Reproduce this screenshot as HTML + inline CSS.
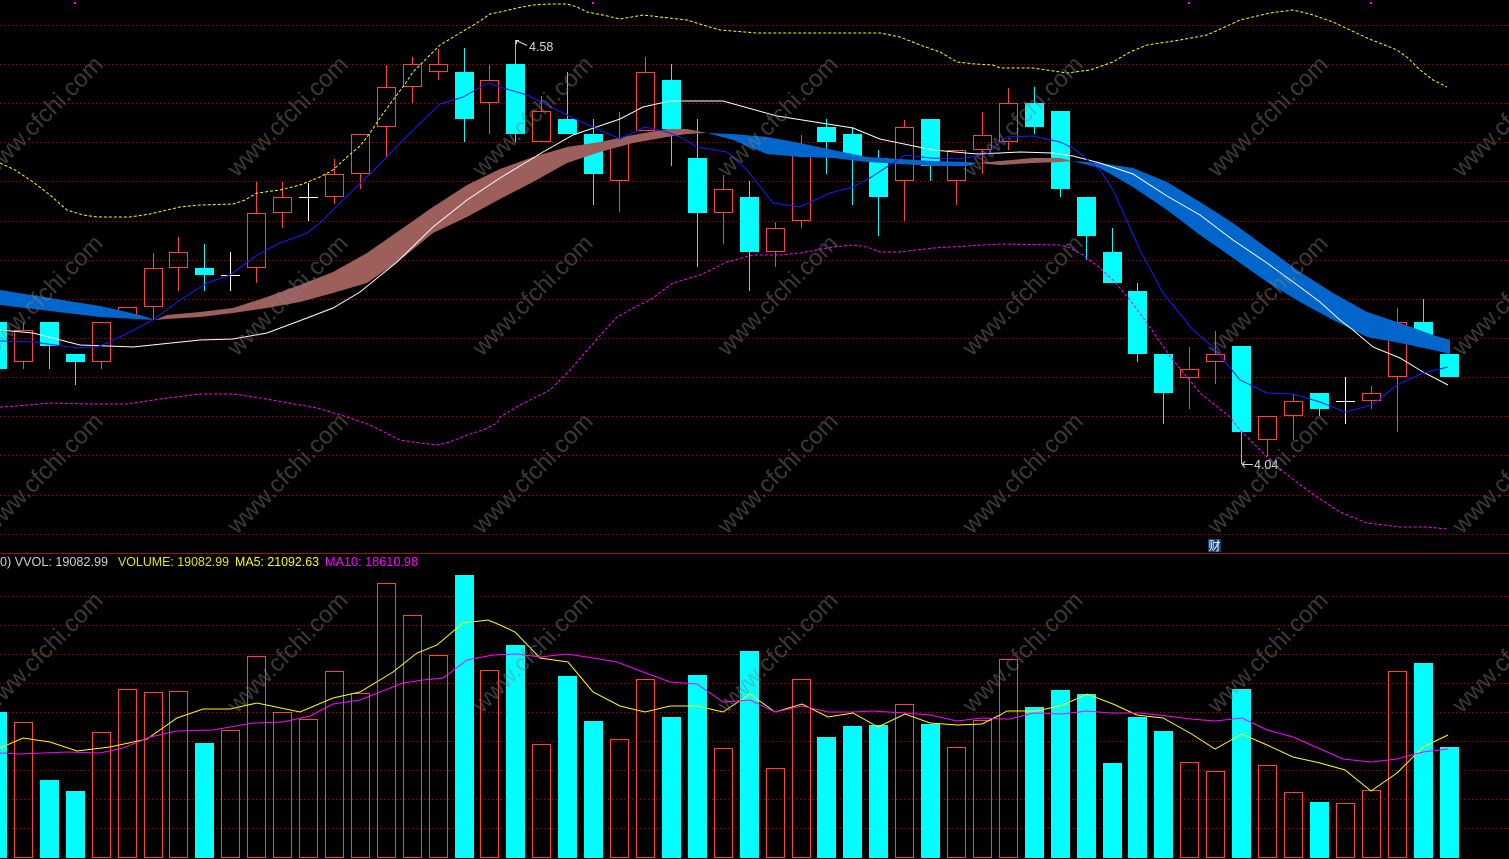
<!DOCTYPE html>
<html><head><meta charset="utf-8"><style>html,body{margin:0;padding:0;background:#000;overflow:hidden}svg{display:block}</style></head>
<body>
<svg xmlns="http://www.w3.org/2000/svg" width="1509" height="859" viewBox="0 0 1509 859">
<rect width="1509" height="859" fill="#000"/>
<!-- grid -->
<g stroke="#a00000" stroke-width="1" stroke-dasharray="1 3">
<path d="M0 25.5H1509M0 64.5H1509M0 103.5H1509M0 142.5H1509M0 181.5H1509M0 221.5H1509M0 260.5H1509M0 299.5H1509M0 338.5H1509M0 377.5H1509M0 416.5H1509M0 455.5H1509M0 495.5H1509M0 534.5H1509"/>
<path d="M0 596.5H1509M0 625.5H1509M0 654.5H1509M0 683.5H1509M0 712.5H1509M0 741.5H1509M0 770.5H1509M0 799.5H1509M0 828.5H1509"/>
</g>
<path d="M0 553.5H1509" stroke="#a01010" stroke-width="1"/>
<!-- red candles -->
<g fill="none" stroke="#ff4040" stroke-width="1" shape-rendering="crispEdges">
<rect x="14.5" y="330.5" width="18" height="31"/><path d="M23.5 323V330M23.5 362V369"/>
<rect x="92.5" y="322.5" width="18" height="39"/><path d="M101.5 362V369"/>
<rect x="118.5" y="307.5" width="18" height="7"/><path d="M127.5 315V318"/>
<rect x="144.5" y="268.5" width="18" height="38"/><path d="M153.5 253V268M153.5 307V320"/>
<rect x="169.5" y="252.5" width="18" height="15"/><path d="M178.5 237V252M178.5 268V291"/>
<rect x="247.5" y="213.5" width="18" height="54"/><path d="M256.5 182V213M256.5 268V283"/>
<rect x="273.5" y="197.5" width="18" height="15"/><path d="M282.5 182V197M282.5 213V228"/>
<rect x="325.5" y="174.5" width="18" height="22"/><path d="M334.5 159V174M334.5 197V204"/>
<rect x="351.5" y="134.5" width="18" height="39"/><path d="M360.5 174V189"/>
<rect x="377.5" y="87.5" width="18" height="39"/><path d="M386.5 65V87M386.5 127V158"/>
<rect x="403.5" y="64.5" width="18" height="22"/><path d="M412.5 57V64M412.5 87V103"/>
<rect x="429.5" y="64.5" width="18" height="7"/><path d="M438.5 49V64M438.5 72V80"/>
<rect x="480.5" y="80.5" width="18" height="22"/><path d="M489.5 65V80M489.5 103V134"/>
<rect x="532.5" y="111.5" width="18" height="30"/><path d="M541.5 96V111"/>
<rect x="610.5" y="142.5" width="18" height="38"/><path d="M619.5 112V142M619.5 181V212"/>
<rect x="636.5" y="72.5" width="18" height="58"/><path d="M645.5 57V72"/>
<rect x="714.5" y="189.5" width="18" height="23"/><path d="M723.5 175V189M723.5 213V244"/>
<rect x="766.5" y="228.5" width="18" height="23"/><path d="M775.5 222V228M775.5 252V267"/>
<rect x="792.5" y="150.5" width="18" height="70"/><path d="M801.5 135V150M801.5 221V228"/>
<rect x="895.5" y="127.5" width="18" height="53"/><path d="M904.5 120V127M904.5 181V221"/>
<rect x="947.5" y="150.5" width="18" height="30"/><path d="M956.5 181V205"/>
<rect x="973.5" y="135.5" width="18" height="14"/><path d="M982.5 112V135M982.5 150V174"/>
<rect x="999.5" y="103.5" width="18" height="38"/><path d="M1008.5 88V103M1008.5 142V150"/>
<rect x="1180.5" y="369.5" width="18" height="8"/><path d="M1189.5 347V369M1189.5 378V409"/>
<rect x="1206.5" y="354.5" width="18" height="7"/><path d="M1215.5 331V354M1215.5 362V384"/>
<rect x="1258.5" y="416.5" width="18" height="23"/><path d="M1267.5 440V456"/>
<rect x="1284.5" y="401.5" width="18" height="14"/><path d="M1293.5 394V401M1293.5 416V440"/>
<rect x="1362.5" y="393.5" width="18" height="7"/><path d="M1371.5 386V393M1371.5 401V409"/>
<rect x="1388.5" y="322.5" width="18" height="54"/><path d="M1397.5 308V322M1397.5 377V432"/>
</g>
<!-- cyan candles -->
<g shape-rendering="crispEdges">
<path stroke="#00ffff" stroke-width="1" fill="none" d="M49.5 346V369M75.5 362V385M204.5 244V291M464.5 48V142M515.5 40V142M567.5 72V119M593.5 119V205M671.5 64V166M697.5 119V267M749.5 181V291M826.5 119V174M852.5 127V205M878.5 150V236M930.5 166V181M1034.5 87V134M1060.5 189V197M1086.5 236V260M1112.5 228V252M1137.5 283V362M1163.5 393V424M1241.5 432V464M1319.5 409V416M1423.5 299V322"/>
<g fill="#00ffff">
<rect x="-12" y="322" width="19" height="47"/>
<rect x="40" y="322" width="19" height="24"/>
<rect x="66" y="354" width="19" height="8"/>
<rect x="195" y="268" width="19" height="7"/>
<rect x="455" y="72" width="19" height="47"/>
<rect x="506" y="64" width="19" height="70"/>
<rect x="558" y="119" width="19" height="15"/>
<rect x="584" y="134" width="19" height="40"/>
<rect x="662" y="80" width="19" height="49"/>
<rect x="688" y="158" width="19" height="55"/>
<rect x="740" y="197" width="19" height="55"/>
<rect x="817" y="127" width="19" height="15"/>
<rect x="843" y="134" width="19" height="22"/>
<rect x="869" y="158" width="19" height="39"/>
<rect x="921" y="119" width="19" height="47"/>
<rect x="1025" y="103" width="19" height="24"/>
<rect x="1051" y="111" width="19" height="78"/>
<rect x="1077" y="197" width="19" height="39"/>
<rect x="1103" y="252" width="19" height="31"/>
<rect x="1128" y="291" width="19" height="63"/>
<rect x="1154" y="354" width="19" height="39"/>
<rect x="1232" y="346" width="19" height="86"/>
<rect x="1310" y="393" width="19" height="16"/>
<rect x="1414" y="322" width="19" height="18"/>
<rect x="1440" y="354" width="19" height="23"/>
</g>
<path stroke="#ffffff" stroke-width="1" fill="none" d="M221 275.5H240M230.5 252V291M299 197.5H318M308.5 183V221M1336 401.5H1355M1345.5 377V424"/>
</g>
<!-- band -->
<polygon fill="#0066cc" points="0,290 50,298 100,306 140,315 155,320 100,317 50,311 0,305"/>
<polygon fill="#9c5f5c" points="155,320 167,315 200,312 233,308 267,297 300,285 333,272 367,253 400,230 433,207 467,185 500,169 533,157 567,147 600,142 633,135 667,129 687,129 707,133 687,134 667,137 633,143 600,152 567,163 533,182 500,199 467,217 433,233 400,260 367,283 333,293 300,302 267,308 233,313 200,317 167,319"/>
<polygon fill="#0066cc" points="707,133 733,134 767,137 800,143 833,150 867,157 900,159 933,161 967,162 977,163 967,166 933,166 900,164 867,162 833,158 800,157 767,154 733,140"/>
<polygon fill="#9c5f5c" points="977,163 1000,161 1033,158 1060,158 1072,161 1060,162 1033,163 1000,165"/>
<polygon fill="#0066cc" points="1072,161 1100,163 1133,168 1167,182 1200,202 1233,223 1267,248 1300,272 1333,293 1367,312 1400,323 1433,335 1450,340 1450,354 1433,350 1400,343 1367,337 1333,320 1300,302 1267,282 1233,258 1200,235 1167,210 1133,187 1100,168"/>
<!-- lines -->
<g fill="none" stroke-width="1">
<polyline stroke="#ffffff" points="0,330 33,333 80,345 133,347 200,340 233,339 267,333 307,318 333,308 360,292 397,262 433,227 467,200 500,178 543,152 573,135 620,119 643,107 670,101 723,101 777,116 853,128 880,139 933,150 977,154 1000,153 1020,152 1053,153 1073,156 1100,163 1133,174 1167,196 1200,215 1233,240 1267,263 1300,287 1320,302 1340,320 1353,330 1373,347 1400,358 1423,372 1448,385"/>
<polyline stroke="#1a1aff" points="0,341 33,342 77,348 97,347 110,342 153,320 180,300 207,283 230,275 257,255 280,243 307,233 320,223 343,200 377,167 410,133 440,104 463,97 488,83 500,87 527,95 577,120 620,139 645,127 667,132 680,137 697,147 727,152 747,170 773,203 800,207 830,193 853,187 870,178 905,155 930,158 960,159 987,154 1000,142 1007,137 1033,136 1060,142 1073,148 1100,170 1113,190 1140,250 1163,293 1193,330 1213,347 1240,380 1267,393 1293,394 1320,402 1345,412 1372,405 1397,385 1423,373 1448,367"/>
<polyline stroke="#ffff00" stroke-dasharray="3 2" points="0,163 15,170 33,182 50,195 67,210 83,215 97,217 130,217 150,214 167,210 180,207 200,205 233,204 245,200 257,193 280,190 300,185 320,177 333,170 347,157 360,146 370,133 380,118 393,100 405,84 413,72 427,58 440,45 460,33 477,23 490,14 500,12 517,8 533,5 550,4 567,4 577,7 587,12 603,15 620,19 643,15 660,17 687,20 703,25 720,30 757,33 800,33 880,33 900,37 920,45 940,52 957,62 975,64 993,65 1000,68 1033,68 1067,73 1090,70 1113,62 1130,52 1147,45 1180,40 1207,35 1225,27 1240,20 1270,13 1293,10 1310,14 1333,22 1350,30 1367,38 1397,50 1408,58 1420,70 1433,80 1447,87"/>
<polyline stroke="#ff00ff" stroke-dasharray="3 2" points="0,407 17,406 50,403 90,404 127,404 160,399 200,394 233,394 260,398 283,402 300,405 317,408 347,417 370,425 400,440 420,443 437,445 450,442 467,435 483,430 497,423 500,417 520,405 550,390 570,370 590,347 605,330 617,317 635,307 650,300 673,283 700,275 727,262 753,255 780,255 800,253 833,247 853,245 867,247 880,252 900,252 933,248 967,246 1000,244 1060,245 1070,248 1083,255 1100,268 1113,280 1130,300 1147,323 1160,342 1173,360 1187,377 1200,393 1215,405 1230,417 1240,430 1257,447 1273,463 1295,481 1317,497 1340,512 1367,523 1400,527 1427,527 1447,529"/>
</g>
<g fill="#ff00ff"><rect x="74" y="2" width="2" height="2"/><rect x="592" y="2" width="2" height="2"/><rect x="1188" y="2" width="2" height="2"/><rect x="1370" y="2" width="2" height="2"/></g>
<!-- labels -->
<path d="M516.5 44V40.5H519M516.5 40.5L527 45.5" stroke="#d8d8d8" fill="none" stroke-width="1"/>
<text x="529" y="51" font-family="Liberation Sans, sans-serif" font-size="12.5" fill="#d8d8d8">4.58</text>
<path d="M1242 464.5H1253M1242 464.5L1245 461.5M1242 464.5L1245 467.5" stroke="#d8d8d8" fill="none" stroke-width="1"/>
<text x="1254" y="469" font-family="Liberation Sans, sans-serif" font-size="12.5" fill="#d8d8d8">4.04</text>
<rect x="1208" y="539" width="13" height="13" fill="#12407a"/>
<text x="1214.5" y="550" text-anchor="middle" font-family="Liberation Sans, Noto Sans CJK SC, sans-serif" font-size="12" fill="#ffffff">财</text>
<!-- volume -->
<g fill="none" stroke="#ff4040" stroke-width="1" shape-rendering="crispEdges">
<rect x="14.5" y="722.5" width="18" height="135"/>
<rect x="92.5" y="732.5" width="18" height="125"/>
<rect x="118.5" y="689.5" width="18" height="168"/>
<rect x="144.5" y="692.5" width="18" height="165"/>
<rect x="169.5" y="691.5" width="18" height="166"/>
<rect x="221.5" y="730.5" width="18" height="127"/>
<rect x="247.5" y="656.5" width="18" height="201"/>
<rect x="273.5" y="712.5" width="18" height="145"/>
<rect x="299.5" y="719.5" width="18" height="138"/>
<rect x="325.5" y="671.5" width="18" height="186"/>
<rect x="351.5" y="693.5" width="18" height="164"/>
<rect x="377.5" y="583.5" width="18" height="274"/>
<rect x="403.5" y="615.5" width="18" height="242"/>
<rect x="429.5" y="655.5" width="18" height="202"/>
<rect x="480.5" y="670.5" width="18" height="187"/>
<rect x="532.5" y="744.5" width="18" height="113"/>
<rect x="610.5" y="739.5" width="18" height="118"/>
<rect x="636.5" y="679.5" width="18" height="178"/>
<rect x="714.5" y="748.5" width="18" height="109"/>
<rect x="766.5" y="768.5" width="18" height="89"/>
<rect x="792.5" y="679.5" width="18" height="178"/>
<rect x="895.5" y="704.5" width="18" height="153"/>
<rect x="947.5" y="747.5" width="18" height="110"/>
<rect x="973.5" y="720.5" width="18" height="137"/>
<rect x="999.5" y="659.5" width="18" height="198"/>
<rect x="1180.5" y="762.5" width="18" height="95"/>
<rect x="1206.5" y="771.5" width="18" height="86"/>
<rect x="1258.5" y="765.5" width="18" height="92"/>
<rect x="1284.5" y="792.5" width="18" height="65"/>
<rect x="1336.5" y="803.5" width="18" height="54"/>
<rect x="1362.5" y="790.5" width="18" height="67"/>
<rect x="1388.5" y="671.5" width="18" height="186"/>
</g>
<g fill="#00ffff" shape-rendering="crispEdges">
<rect x="-12" y="712" width="19" height="146"/>
<rect x="40" y="780" width="19" height="78"/>
<rect x="66" y="791" width="19" height="67"/>
<rect x="195" y="743" width="19" height="115"/>
<rect x="455" y="575" width="19" height="283"/>
<rect x="506" y="645" width="19" height="213"/>
<rect x="558" y="676" width="19" height="182"/>
<rect x="584" y="721" width="19" height="137"/>
<rect x="662" y="717" width="19" height="141"/>
<rect x="688" y="675" width="19" height="183"/>
<rect x="740" y="651" width="19" height="207"/>
<rect x="817" y="737" width="19" height="121"/>
<rect x="843" y="726" width="19" height="132"/>
<rect x="869" y="725" width="19" height="133"/>
<rect x="921" y="724" width="19" height="134"/>
<rect x="1025" y="707" width="19" height="151"/>
<rect x="1051" y="690" width="19" height="168"/>
<rect x="1077" y="694" width="19" height="164"/>
<rect x="1103" y="763" width="19" height="95"/>
<rect x="1128" y="717" width="19" height="141"/>
<rect x="1154" y="731" width="19" height="127"/>
<rect x="1232" y="689" width="19" height="169"/>
<rect x="1310" y="802" width="19" height="56"/>
<rect x="1414" y="663" width="19" height="195"/>
<rect x="1440" y="747" width="19" height="111"/>
</g>
<g fill="none" stroke-width="1">
<polyline stroke="#ffff00" points="0,748 23,738 50,742 77,751 110,747 147,739 177,718 203,709 230,709 257,703 300,712 333,698 360,692 393,672 417,653 437,645 463,623 488,620 500,625 515,632 540,658 568,662 593,692 620,706 645,712 670,706 697,706 723,712 750,694 775,712 802,704 828,717 853,713 878,727 905,714 930,723 957,725 982,724 1000,715 1007,711 1037,711 1063,705 1087,694 1113,704 1137,715 1163,718 1190,733 1215,749 1242,734 1267,745 1293,757 1320,763 1345,770 1371,791 1397,773 1423,747 1448,735"/>
<polyline stroke="#ff00ff" points="0,753 20,754 67,752 100,753 123,748 150,737 177,731 213,730 253,723 283,722 310,716 333,704 360,700 380,692 403,683 423,680 443,678 467,660 493,655 517,654 540,657 567,654 593,658 617,662 643,672 670,682 697,684 723,702 750,700 775,712 802,706 828,712 853,712 872,711 905,713 930,715 957,721 982,718 1000,719 1010,719 1033,713 1063,714 1087,711 1110,713 1140,713 1167,716 1190,719 1215,721 1242,718 1267,730 1293,737 1343,759 1371,762 1397,759 1423,752 1448,749"/>
</g>
<g font-family="Liberation Sans, sans-serif" font-size="12.5">
<text x="0" y="566" fill="#d0d0d0" textLength="108" lengthAdjust="spacingAndGlyphs">0) VVOL: 19082.99</text>
<text x="118" y="566" fill="#e6e600" textLength="111" lengthAdjust="spacingAndGlyphs">VOLUME: 19082.99</text>
<text x="235" y="566" fill="#ffff00" textLength="84" lengthAdjust="spacingAndGlyphs">MA5: 21092.63</text>
<text x="325" y="566" fill="#ff00ff" textLength="93" lengthAdjust="spacingAndGlyphs">MA10: 18610.98</text>
</g>
<!-- watermark -->
<g font-family="Liberation Sans, sans-serif" font-size="24" fill="#808080" fill-opacity="0.45">
<text transform="translate(-8,178) rotate(-45)">www.cfchi.com</text>
<text transform="translate(237,178) rotate(-45)">www.cfchi.com</text>
<text transform="translate(482,178) rotate(-45)">www.cfchi.com</text>
<text transform="translate(727,178) rotate(-45)">www.cfchi.com</text>
<text transform="translate(972,178) rotate(-45)">www.cfchi.com</text>
<text transform="translate(1217,178) rotate(-45)">www.cfchi.com</text>
<text transform="translate(1462,178) rotate(-45)">www.cfchi.com</text>
<text transform="translate(-8,357) rotate(-45)">www.cfchi.com</text>
<text transform="translate(237,357) rotate(-45)">www.cfchi.com</text>
<text transform="translate(482,357) rotate(-45)">www.cfchi.com</text>
<text transform="translate(727,357) rotate(-45)">www.cfchi.com</text>
<text transform="translate(972,357) rotate(-45)">www.cfchi.com</text>
<text transform="translate(1217,357) rotate(-45)">www.cfchi.com</text>
<text transform="translate(1462,357) rotate(-45)">www.cfchi.com</text>
<text transform="translate(-8,535) rotate(-45)">www.cfchi.com</text>
<text transform="translate(237,535) rotate(-45)">www.cfchi.com</text>
<text transform="translate(482,535) rotate(-45)">www.cfchi.com</text>
<text transform="translate(727,535) rotate(-45)">www.cfchi.com</text>
<text transform="translate(972,535) rotate(-45)">www.cfchi.com</text>
<text transform="translate(1217,535) rotate(-45)">www.cfchi.com</text>
<text transform="translate(1462,535) rotate(-45)">www.cfchi.com</text>
<text transform="translate(-8,714) rotate(-45)">www.cfchi.com</text>
<text transform="translate(237,714) rotate(-45)">www.cfchi.com</text>
<text transform="translate(482,714) rotate(-45)">www.cfchi.com</text>
<text transform="translate(727,714) rotate(-45)">www.cfchi.com</text>
<text transform="translate(972,714) rotate(-45)">www.cfchi.com</text>
<text transform="translate(1217,714) rotate(-45)">www.cfchi.com</text>
<text transform="translate(1462,714) rotate(-45)">www.cfchi.com</text>
</g>
</svg>
</body></html>
